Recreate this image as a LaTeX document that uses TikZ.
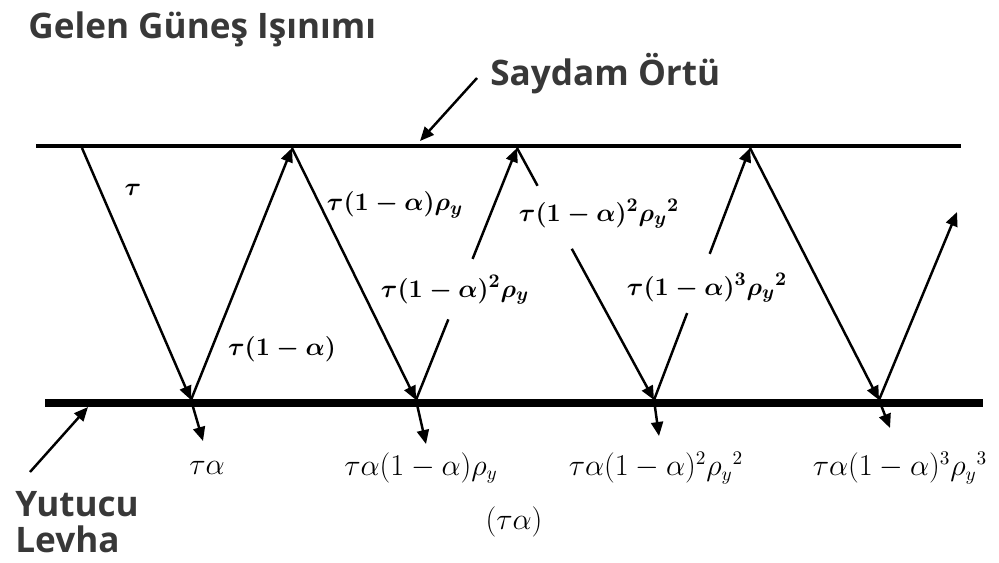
\documentclass[tikz,border=0pt]{standalone}
\usepackage{amsmath}
\usepackage{fontspec}
\setmainfont{Open Sans}
\usetikzlibrary{arrows.meta,calc}

\definecolor{headgray}{HTML}{383838}

\begin{document}
\begin{tikzpicture}[x=0.02cm, y=-0.02cm,
    ray/.style={line width=1.4pt, -{Triangle[length=2.8mm,width=2.4mm]}},
    cover/.style={line width=2.8pt},
    plate/.style={line width=4pt},
    head/.style={font=\bfseries\fontsize{20}{24}\selectfont, text=headgray, inner sep=0pt},
    flux/.style={font=\boldmath\fontsize{15}{18}\selectfont, inner sep=1pt},
    absorbed/.style={font=\fontsize{16}{19}\selectfont, inner sep=1pt}]
  \useasboundingbox (0,0) rectangle (999,562);
  % glass cover and absorber plate
  \coordinate (cl) at (36,146);
  \coordinate (cr) at (961,146);
  \coordinate (pl) at (45,403);
  \coordinate (pr) at (983,403);
  \draw[cover] (cl) -- (cr);
  \draw[plate] (pl) -- (pr);
  % reflection points
  \coordinate (t0) at (82,148);
  \coordinate (b1) at (191,400);
  \coordinate (t1) at (292,148);
  \coordinate (b2) at (416,400);
  \coordinate (t2) at (517,148);
  \coordinate (b3) at (654,400);
  \coordinate (t3) at (750,148);
  \coordinate (b4) at (879,400);
  \coordinate (e1) at (957,212);
  \coordinate (a1) at (203,441);
  \coordinate (a2) at (426,444);
  \coordinate (a3) at (659,436);
  \coordinate (a4) at (890,428);
  % multiple reflections
  \draw[ray] (t0) -- (b1);
  \draw[ray] (b1) -- (t1);
  \draw[ray] (t1) -- (b2);
  \draw[line width=1.4pt] (b2) -- ($(b2)!0.32!(t2)$);
  \draw[ray] ($(b2)!0.56!(t2)$) -- (t2);
  \draw[line width=1.4pt] (t2) -- ($(t2)!0.15!(b3)$);
  \draw[ray] ($(t2)!0.40!(b3)$) -- (b3);
  \draw[line width=1.4pt] (b3) -- ($(b3)!0.345!(t3)$);
  \draw[ray] ($(b3)!0.58!(t3)$) -- (t3);
  \draw[ray] (t3) -- (b4);
  \draw[ray] (b4) -- (e1);
  % absorbed parts
  \draw[ray] (b1) -- (a1);
  \draw[ray] (b2) -- (a2);
  \draw[ray] (b3) -- (a3);
  \draw[ray] (b4) -- (a4);
  % flux labels
  \node[flux] (f0) at (133,190) {$\tau$};
  \node[flux] (f1) at (282,349) {$\tau(1-\alpha)$};
  \node[flux] (f2) at (395,205) {$\tau(1-\alpha)\rho_y$};
  \node[flux] (f3) at (455,290) {$\tau(1-\alpha)^2\rho_y$};
  \node[flux] (f4) at (599,214) {$\tau(1-\alpha)^2{\rho_y}^2$};
  \node[flux] (f5) at (707,288) {$\tau(1-\alpha)^3{\rho_y}^2$};
  \node[absorbed] (g1) at (207,468) {$\tau\alpha$};
  \node[absorbed] (g2) at (421,468) {$\tau\alpha(1-\alpha)\rho_y$};
  \node[absorbed] (g3) at (656,468) {$\tau\alpha(1-\alpha)^2{\rho_y}^2$};
  \node[absorbed] (g4) at (900,468) {$\tau\alpha(1-\alpha)^3{\rho_y}^3$};
  \node[absorbed] (sum) at (514,522) {$(\tau\alpha)$};
  % titles
  \node[head, anchor=base west] (sun) at (28,38) {Gelen Güneş Işınımı};
  \node[head, anchor=base west] (glass) at (490,85) {Saydam Örtü};
  \node[head, anchor=base west, align=left] (abs) at (15,552) {Yutucu\\[-4pt]Levha};
  \coordinate (gs) at (477,78);
  \coordinate (gt) at (420,141);
  \coordinate (as) at (30,472);
  \coordinate (at) at (88,407);
  \draw[ray] (gs) -- (gt);
  \draw[ray] (as) -- (at);
\end{tikzpicture}
\end{document}
